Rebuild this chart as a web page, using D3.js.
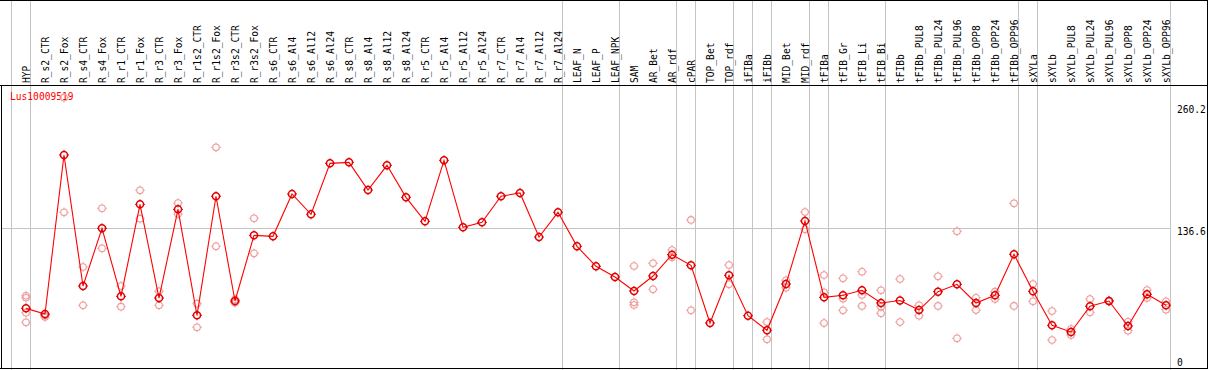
<!DOCTYPE html>
<html lang="en">
<head>
  <meta charset="UTF-8">
  <title>Lus10009519</title>
  <script src="https://d3js.org/d3.v7.min.js"></script>
  <style>
    body {
      margin: 0;
      padding: 0;
      background: #fff;
      overflow: hidden;
    }
    text {
      font-family: "DejaVu Sans Mono", monospace;
      font-size: 9.6px;
    }
  </style>
</head>
<body>
  <div id="chart"></div>

  <script>
    const geneName = "Lus10009519";

    const categories = [
      "HYP", "R_s2_CTR", "R_s2_Fox", "R_s4_CTR", "R_s4_Fox", "R_r1_CTR", "R_r1_Fox",
      "R_r3_CTR", "R_r3_Fox", "R_r1s2_CTR", "R_r1s2_Fox", "R_r3s2_CTR", "R_r3s2_Fox",
      "R_s6_CTR", "R_s6_Al4", "R_s6_Al12", "R_s6_Al24", "R_s8_CTR", "R_s8_Al4", "R_s8_Al12",
      "R_s8_Al24", "R_r5_CTR", "R_r5_Al4", "R_r5_Al12", "R_r5_Al24", "R_r7_CTR", "R_r7_Al4",
      "R_r7_Al12", "R_r7_Al24", "LEAF_N", "LEAF_P", "LEAF_NPK", "SAM", "AR_Bet", "AR_rdf",
      "cPAR", "TOP_Bet", "TOP_rdf", "iFIBa", "iFIBb", "MID_Bet", "MID_rdf", "tFIBa",
      "tFIB_Gr", "tFIB_Li", "tFIB_Bi", "tFIBb", "tFIBb_PUL8", "tFIBb_PUL24", "tFIBb_PUL96",
      "tFIBb_OPP8", "tFIBb_OPP24", "tFIBb_OPP96", "sXYLa", "sXYLb", "sXYLb_PUL8",
      "sXYLb_PUL24", "sXYLb_PUL96", "sXYLb_OPP8", "sXYLb_OPP24", "sXYLb_OPP96"
    ];

    // mean expression per sample
    const means = [
      55.9, 50.2, 210.5, 78.4, 136.6, 68.0, 160.8,
      66.3, 155.7, 48.9, 168.9, 63.3, 129.5,
      128.5, 171.2, 150.7, 202.1, 203.1, 175.2, 200.1,
      167.8, 143.6, 205.1, 137.6, 142.6, 168.9, 172.2,
      127.8, 152.7, 118.4, 98.3, 87.5, 73.4, 88.5, 110.0,
      99.3, 41.1, 89.2, 48.5, 33.8, 80.4, 144.0, 67.0,
      69.1, 74.1, 61.3, 63.8, 54.2, 72.7, 80.1,
      61.3, 69.1, 110.4, 73.1, 38.8, 32.1,
      58.0, 63.3, 38.1, 70.1, 59.0
    ];

    // individual replicates
    const replicates = [
      [68.6, 66.6, 51.5, 41.8], [48.7, 47.2], [152.7, 268.3], [97.6, 59.0], [156.8, 116.4],
      [78.4, 57.6], [174.9, 146.3], [73.1, 59.0], [162.1, 151.0], [60.6, 36.8],
      [218.2, 118.4], [65.0, 61.6], [146.7, 111.4],
      [], [], [], [], [], [], [], [], [], [], [], [], [], [], [], [],
      [], [], [],
      [98.6, 62.0, 59.3], [101.3, 75.1], [114.7, 107.4], [145.0, 53.9], [],
      [99.6, 80.1], [], [42.1, 24.7], [84.2, 76.7], [153.0, 135.6],
      [89.5, 72.1, 41.1], [86.2, 65.6, 53.9], [92.8, 69.4, 58.3], [74.1, 57.6, 50.9],
      [85.5, 42.1], [59.0, 48.5], [88.2, 58.3], [133.6, 25.7], [66.6, 54.2], [72.7, 65.3],
      [161.8, 58.3], [80.4, 63.0], [53.2, 24.0], [35.1, 29.0], [65.3, 51.9], [63.8, 62.8],
      [42.4, 33.4], [74.4, 66.3], [63.0, 54.5]
    ];

    // last sample of each tissue group (separator drawn after it)
    const groupEnds = [
      "HYP", "R_r7_Al24", "LEAF_NPK", "AR_rdf", "cPAR", "TOP_rdf", "iFIBa", "iFIBb",
      "MID_rdf", "tFIBa", "tFIB_Bi", "tFIBb_OPP96", "sXYLa", "sXYLb_OPP96"
    ];

    const yTicks = [260.2, 136.6, 0];
    const yMax = 260.2;

    const width = 1209;
    const height = 370;
    const headerY = 85;

    const svg = d3.select("#chart")
                  .append("svg")
                  .attr("width", width)
                  .attr("height", height);

    const x = d3.scalePoint()
                .domain(categories)
                .range([26, 1166]);

    const y = d3.scaleLinear()
                .domain([0, yMax])
                .range([363.8, 105.7]);

    const grey = "#c4c4c4";

    // group separators
    const seps = [x(categories[0]) - 19].concat(groupEnds.map(d => x(d)));
    svg.selectAll(".sep")
       .data(seps)
       .enter()
       .append("line")
       .attr("x1", d => Math.round(d + 4) + 0.5)
       .attr("x2", d => Math.round(d + 4) + 0.5)
       .attr("y1", 0)
       .attr("y2", height)
       .attr("stroke", grey);

    // horizontal grid at middle tick
    svg.append("line")
       .attr("x1", 1)
       .attr("x2", 1170)
       .attr("y1", Math.round(y(136.6)) + 0.5)
       .attr("y2", Math.round(y(136.6)) + 0.5)
       .attr("stroke", grey);

    // frame
    svg.append("line")
       .attr("x1", 0).attr("x2", 1208)
       .attr("y1", headerY + 0.5).attr("y2", headerY + 0.5)
       .attr("stroke", "#000");
    svg.append("line")
       .attr("x1", 0).attr("x2", 1208)
       .attr("y1", 0.5).attr("y2", 0.5)
       .attr("stroke", "#000");
    svg.append("line")
       .attr("x1", 0).attr("x2", 1208)
       .attr("y1", 368.5).attr("y2", 368.5)
       .attr("stroke", "#000");
    svg.append("line")
       .attr("x1", 1.5).attr("x2", 1.5)
       .attr("y1", headerY).attr("y2", 369)
       .attr("stroke", "#000");
    svg.append("line")
       .attr("x1", 1207.5).attr("x2", 1207.5)
       .attr("y1", 0).attr("y2", 369)
       .attr("stroke", "#000");

    // sample labels in header
    svg.selectAll(".cat-label")
       .data(categories)
       .enter()
       .append("text")
       .attr("class", "cat-label")
       .attr("transform", d => `translate(${x(d) + 4},${headerY - 2}) rotate(-90)`)
       .attr("fill", "#000")
       .text(d => d);

    // right axis labels
    svg.selectAll(".y-label")
       .data(yTicks)
       .enter()
       .append("text")
       .attr("class", "y-label")
       .attr("x", 1177)
       .attr("y", d => Math.min(y(d), 359) + 7)
       .attr("fill", "#000")
       .text(d => d);

    // gene name
    svg.append("text")
       .attr("x", 10)
       .attr("y", 100)
       .attr("fill", "#ff0000")
       .text(geneName);

    function marker(g, cx, cy, r, color, sw) {
      g.append("circle")
       .attr("cx", cx).attr("cy", cy).attr("r", r)
       .attr("fill", "none")
       .attr("stroke", color)
       .attr("stroke-width", sw);
      [[0, -1], [0, 1], [-1, 0], [1, 0]].forEach(([dx, dy]) => {
        g.append("line")
         .attr("x1", cx + dx * r).attr("y1", cy + dy * r)
         .attr("x2", cx + dx * (r + 1.5)).attr("y2", cy + dy * (r + 1.5))
         .attr("stroke", color)
         .attr("stroke-width", 1);
      });
    }

    // replicate points
    const repG = svg.append("g");
    replicates.forEach((reps, i) => {
      reps.forEach(v => marker(repG, x(categories[i]), y(v), 3.3, "#ee9a9a", 1.1));
    });

    // mean line
    const line = d3.line()
                   .x((d, i) => x(categories[i]))
                   .y(d => y(d));

    svg.append("path")
       .datum(means)
       .attr("d", line)
       .attr("fill", "none")
       .attr("stroke", "#ff0000")
       .attr("stroke-width", 1.1);

    const meanG = svg.append("g");
    means.forEach((v, i) => marker(meanG, x(categories[i]), y(v), 3.5, "#e00000", 1.5));
  </script>
</body>
</html>
